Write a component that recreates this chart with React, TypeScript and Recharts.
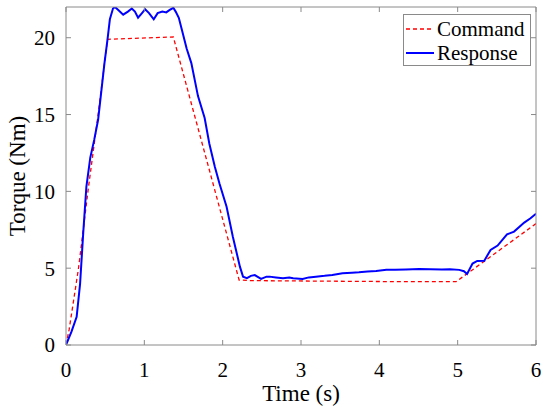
import React from 'react';
import { LineChart, Line, XAxis, YAxis } from 'recharts';

const commandTime = [0, 0.04, 0.16, 0.28, 0.41, 0.53, 1.37, 2.21, 2.36, 4.34, 4.98, 6.0];
const commandTorque = [0, 1, 5, 10, 15, 19.9, 20.05, 4.23, 4.19, 4.12, 4.12, 7.9];

const responseTime = [
  0, 0.07, 0.136, 0.18, 0.22, 0.26, 0.31, 0.36, 0.41, 0.455, 0.49, 0.53, 0.56, 0.6, 0.625,
  0.667, 0.73, 0.79, 0.84, 0.88, 0.92, 0.97, 1.01, 1.06, 1.12, 1.17, 1.23, 1.28, 1.32, 1.37,
  1.4, 1.44, 1.48, 1.54, 1.6, 1.685, 1.77, 1.83, 1.9, 1.96, 2.05, 2.13, 2.22, 2.26, 2.31,
  2.36, 2.41, 2.49, 2.56, 2.6, 2.68, 2.77, 2.85, 2.9, 3.02, 3.1, 3.19, 3.3, 3.4, 3.53, 3.65,
  3.74, 3.85, 3.96, 4.09, 4.2, 4.34, 4.51, 4.65, 4.8, 4.9, 5.02, 5.08, 5.12, 5.19, 5.25,
  5.34, 5.42, 5.51, 5.63, 5.72, 5.85, 5.93, 6.0,
];
const responseTorque = [
  0, 0.87, 1.84, 4.0, 7.3, 10.3, 12.2, 13.35, 14.66, 16.7, 18.3, 19.9, 21.2, 21.9, 22.0,
  21.8, 21.5, 21.7, 21.9, 21.7, 21.3, 21.6, 21.85, 21.6, 21.2, 21.6, 21.7, 21.65, 21.8, 21.95,
  21.7, 21.3, 20.5, 19.3, 18.35, 16.2, 14.77, 13.1, 11.6, 10.5, 9.0, 7.05, 5.1, 4.45, 4.35,
  4.5, 4.55, 4.3, 4.45, 4.45, 4.4, 4.35, 4.4, 4.35, 4.3, 4.4, 4.45, 4.5, 4.56, 4.67, 4.7,
  4.73, 4.78, 4.82, 4.9, 4.9, 4.92, 4.95, 4.93, 4.92, 4.93, 4.89, 4.8, 4.62, 5.3, 5.47,
  5.49, 6.19, 6.47, 7.2, 7.38, 7.97, 8.25, 8.55,
];

const xTicks = [0, 1, 2, 3, 4, 5, 6];
const yTicks = [0, 5, 10, 15, 20];
const seriesNames = ['Command', 'Response'];

const commandData = commandTime.map((t, i) => ({ t, v: commandTorque[i] }));
const responseData = responseTime.map((t, i) => ({ t, v: responseTorque[i] }));

const FONT = '"Liberation Serif", "Times New Roman", serif';
const AXIS = '#8a8a8a';
const emptyTick = () => <g />;

const legendRows = [
  { name: seriesNames[0], color: '#ff0000', dash: '4 3', w: 1.3 },
  { name: seriesNames[1], color: '#0000ff', dash: undefined, w: 2 },
];

const LegendBox = () => (
  <div
    style={{
      position: 'absolute',
      left: 403,
      top: 14,
      width: 126,
      height: 50,
      border: `1px solid ${AXIS}`,
      background: '#fff',
      fontFamily: FONT,
      fontSize: 21,
      color: '#000',
    }}
  >
    {legendRows.map((r, i) => (
      <div key={r.name} style={{ display: 'flex', alignItems: 'center', height: 24, marginTop: i === 0 ? 2 : 0 }}>
        <svg width={32} height={24} style={{ display: 'block' }}>
          <line x1={2} x2={30} y1={12} y2={12} stroke={r.color} strokeWidth={r.w} strokeDasharray={r.dash} />
        </svg>
        <span style={{ lineHeight: '24px', marginLeft: 1 }}>{r.name}</span>
      </div>
    ))}
  </div>
);

const css = `.recharts-wrapper text, .recharts-text { font-family: ${FONT} !important; }`;

export default function App() {
  return (
    <div style={{ position: 'absolute', left: 0, top: 0, width: 550, height: 415, background: '#fff', fontFamily: FONT }}>
      <style>{css}</style>
      <LineChart width={550} height={415} margin={{ top: 6, right: 13, bottom: 30, left: 16 }} style={{ fontFamily: FONT }}>
        <XAxis
          xAxisId="bottom"
          type="number"
          dataKey="t"
          domain={[0, 6]}
          ticks={xTicks}
          height={40}
          tickSize={-5}
          tickMargin={22}
          stroke={AXIS}
          tick={{ fill: '#000', fontSize: 21, fontFamily: FONT }}
          allowDataOverflow
          label={{ value: 'Time (s)', position: 'insideBottom', offset: -16, fill: '#000', fontSize: 23, fontFamily: FONT }}
        />
        <XAxis
          xAxisId="top"
          orientation="top"
          type="number"
          dataKey="t"
          domain={[0, 6]}
          ticks={xTicks}
          height={1}
          tickSize={-5}
          stroke={AXIS}
          tick={emptyTick}
          allowDataOverflow
        />
        <YAxis
          yAxisId="left"
          type="number"
          domain={[0, 22]}
          ticks={yTicks}
          width={50}
          tickSize={-5}
          tickMargin={16}
          stroke={AXIS}
          tick={{ fill: '#000', fontSize: 21, fontFamily: FONT }}
          allowDataOverflow
          label={{ value: 'Torque (Nm)', angle: -90, position: 'insideLeft', offset: 1, fill: '#000', fontSize: 23, fontFamily: FONT, style: { textAnchor: 'middle' } }}
        />
        <YAxis
          yAxisId="right"
          orientation="right"
          type="number"
          domain={[0, 22]}
          ticks={yTicks}
          width={1}
          tickSize={-5}
          stroke={AXIS}
          tick={emptyTick}
          allowDataOverflow
        />
        <Line
          xAxisId="bottom"
          yAxisId="left"
          data={commandData}
          dataKey="v"
          name={seriesNames[0]}
          stroke="#ff0000"
          strokeWidth={1.3}
          strokeDasharray="4 3"
          dot={false}
          activeDot={false}
          isAnimationActive={false}
        />
        <Line
          xAxisId="bottom"
          yAxisId="left"
          data={responseData}
          dataKey="v"
          name={seriesNames[1]}
          stroke="#0000ff"
          strokeWidth={2}
          dot={false}
          activeDot={false}
          isAnimationActive={false}
        />
        <Line
          xAxisId="top"
          yAxisId="right"
          data={commandData}
          dataKey="v"
          stroke="none"
          dot={false}
          activeDot={false}
          legendType="none"
          isAnimationActive={false}
        />
      </LineChart>
      <LegendBox />
    </div>
  );
}
